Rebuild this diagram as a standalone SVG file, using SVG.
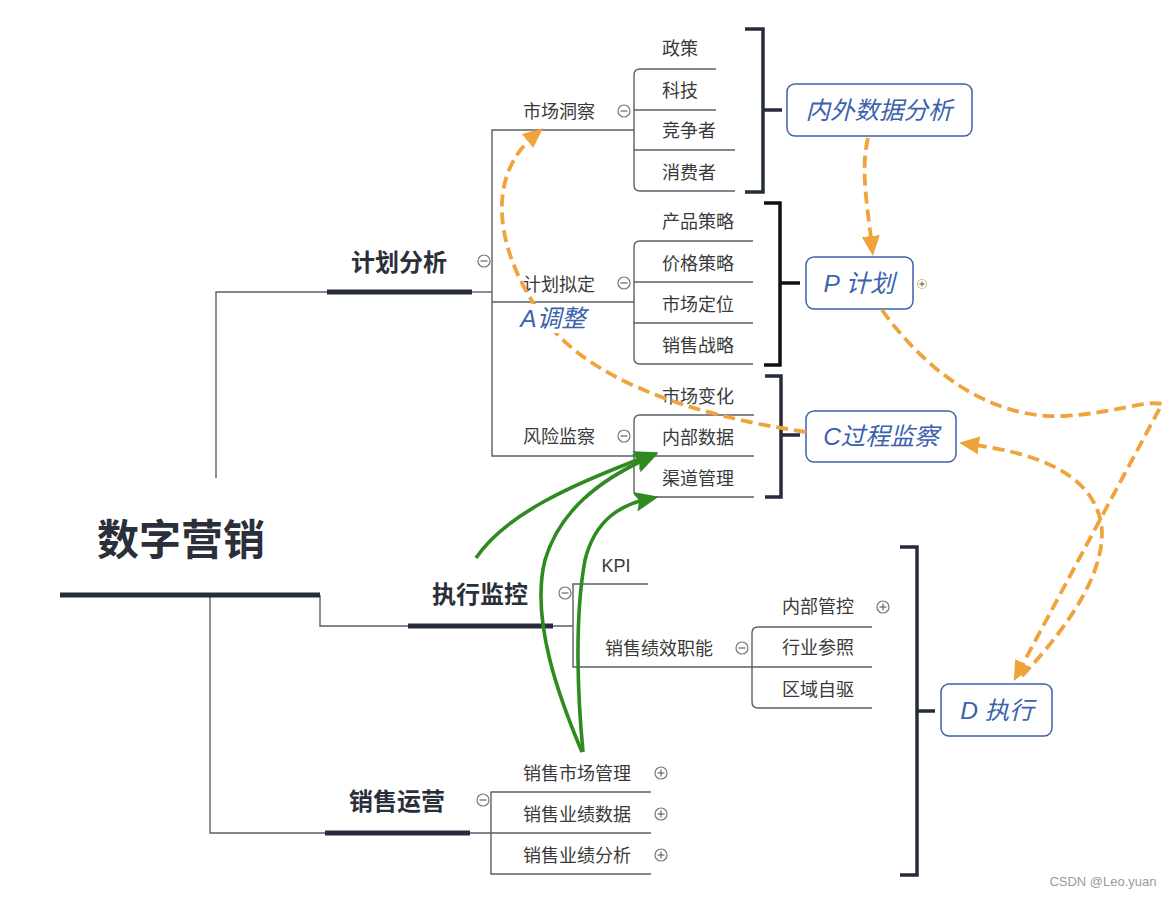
<svg xmlns="http://www.w3.org/2000/svg" width="1172" height="898" viewBox="0 0 1172 898">
<style>
.ln{fill:none;stroke:#5b5f69;stroke-width:1.4}
.bar{fill:none;stroke:#262c3e;stroke-width:5}
.br{fill:none;stroke:#262c3e;stroke-width:3.5}
.t{font-family:"Liberation Sans","Noto Sans CJK SC",sans-serif;font-size:18px;fill:#3a3a3a;text-anchor:middle;dominant-baseline:central}
.tb{font-family:"Liberation Sans","Noto Sans CJK SC",sans-serif;font-weight:bold;font-size:24px;fill:#2b2f3a;text-anchor:middle;dominant-baseline:central}
.root{font-size:42px}
.box{fill:#fff;stroke:#3c62aa;stroke-width:1.5}
.bt{font-family:"Liberation Sans","Noto Sans CJK SC",sans-serif;font-style:italic;font-size:24.5px;fill:#3a62ad;text-anchor:middle;dominant-baseline:central}
.tog{fill:#fff;stroke:#777;stroke-width:1.2}
.tgl{stroke:#666;stroke-width:1.2}
.or{fill:none;stroke:#f0a23b;stroke-width:3.8;stroke-dasharray:12 6}
.gr{fill:none;stroke:#2f8a1f;stroke-width:3.6}
.wm{font-family:"Liberation Sans",sans-serif;font-size:13px;fill:#9a9a9a;text-anchor:middle;dominant-baseline:central}
</style>
<defs>
<marker id="ao" markerUnits="userSpaceOnUse" markerWidth="20" markerHeight="18" refX="11" refY="9" orient="auto" viewBox="0 0 20 18"><path d="M0,0 L20,9 L0,18 z" fill="#f0a23b"/></marker>
<marker id="ag" markerUnits="userSpaceOnUse" markerWidth="24" markerHeight="20" refX="13" refY="10" orient="auto" viewBox="0 0 24 20"><path d="M0,0 L24,10 L0,20 L4,10 z" fill="#2f8a1f"/></marker>
<g id="tog"><circle r="6" class="tog"/><line x1="-3.5" y1="0" x2="3.5" y2="0" class="tgl"/></g>
<g id="plus"><circle r="6" class="tog"/><line x1="-3.5" y1="0" x2="3.5" y2="0" class="tgl"/><line x1="0" y1="-3.5" x2="0" y2="3.5" class="tgl"/></g>
</defs>
<rect width="1172" height="898" fill="#fff"/>

<g id="tree-lines">
<path class="ln" d="M216 478 L216 292 L327 292"/>
<path class="ln" d="M472 292 L492 292"/>
<path class="ln" d="M634 130 L492 130 L492 456 L634 456 M492 302 L634 302"/>
<path class="ln" d="M716 69 L640 69 Q634 69 634 75 L634 185 Q634 191 640 191 L735 191 M634 110 L716 110 M634 150 L735 150"/>
<path class="ln" d="M753 241 L640 241 Q634 241 634 247 L634 358 Q634 364 640 364 L753 364 M634 282 L753 282 M634 323 L753 323"/>
<path class="ln" d="M754 415 L640 415 Q634 415 634 421 L634 491 Q634 497 640 497 L754 497 M634 456 L754 456"/>
<path class="ln" d="M320 595 L320 626 L408 626 M553 626 L573 626"/>
<path class="ln" d="M648 584 L573 584 L573 667 L752 667"/>
<path class="ln" d="M872 627 L758 627 Q752 627 752 633 L752 702 Q752 708 758 708 L872 708 M752 667 L872 667"/>
<path class="ln" d="M210 595 L210 833 L325 833 M470 833 L491 833"/>
<path class="ln" d="M651 792 L491 792 L491 874 L651 874 M491 833 L651 833"/>
<path class="bar" d="M60 595 L320 595"/>
<path class="bar" d="M327 292 L472 292"/>
<path class="bar" d="M408 626 L553 626"/>
<path class="bar" d="M325 833 L470 833"/>
</g>

<g id="brackets">
<path class="br" d="M745 29 L763 29 L763 192 L745 192 M763 110 L782 110"/>
<path class="br" style="stroke:#111" d="M764 203 L780 203 L780 365 L764 365 M780 283 L800 283"/>
<path class="br" d="M765 376 L781 376 L781 497 L765 497 M781 435 L800 435"/>
<path class="br" d="M900 547 L917 547 L917 875 L900 875 M917 711 L935 711"/>
</g>

<g id="n-root"><text class="tb root" x="181" y="540">数字营销</text></g>

<g id="n-jhfx"><text class="tb" x="399" y="262">计划分析</text><use href="#tog" x="484" y="261"/></g>
<g id="n-zxjk"><text class="tb" x="480" y="594">执行监控</text><use href="#tog" x="565" y="593"/></g>
<g id="n-xsyy"><text class="tb" x="397" y="801">销售运营</text><use href="#tog" x="483" y="800"/></g>

<g id="n-scdc"><text class="t" x="559" y="112">市场洞察</text><use href="#tog" x="624" y="111"/></g>
<g id="n-jhnd"><text class="t" x="559" y="285">计划拟定</text><use href="#tog" x="624" y="283"/></g>
<g id="n-fxjc"><text class="t" x="559" y="437">风险监察</text><use href="#tog" x="624" y="436"/></g>

<g id="n-zc"><text class="t" x="680" y="49">政策</text></g>
<g id="n-kj"><text class="t" x="680" y="91">科技</text></g>
<g id="n-jzz"><text class="t" x="689" y="131">竞争者</text></g>
<g id="n-xfz"><text class="t" x="689" y="173">消费者</text></g>

<g id="n-cpcl"><text class="t" x="698" y="222">产品策略</text></g>
<g id="n-jgcl"><text class="t" x="698" y="264">价格策略</text></g>
<g id="n-scdw"><text class="t" x="698" y="305">市场定位</text></g>
<g id="n-xszl"><text class="t" x="698" y="346">销售战略</text></g>

<g id="n-scbh"><text class="t" x="698" y="397">市场变化</text></g>
<g id="n-nbsj"><text class="t" x="698" y="438">内部数据</text></g>
<g id="n-qdgl"><text class="t" x="698" y="479">渠道管理</text></g>

<g id="n-kpi"><text class="t" x="616" y="566">KPI</text></g>
<g id="n-xsjx"><text class="t" x="659" y="649">销售绩效职能</text><use href="#tog" x="742" y="648"/></g>
<g id="n-nbgk"><text class="t" x="818" y="607">内部管控</text><use href="#plus" x="883" y="607"/></g>
<g id="n-hycz"><text class="t" x="818" y="648">行业参照</text></g>
<g id="n-qyzq"><text class="t" x="818" y="690">区域自驱</text></g>

<g id="n-xsscgl"><text class="t" x="577" y="774">销售市场管理</text><use href="#plus" x="661" y="773"/></g>
<g id="n-xsyjsj"><text class="t" x="577" y="815">销售业绩数据</text><use href="#plus" x="661" y="814"/></g>
<g id="n-xsyjfx"><text class="t" x="577" y="856">销售业绩分析</text><use href="#plus" x="661" y="855"/></g>

<g id="n-nwsj"><rect class="box" x="787" y="84" width="185" height="52" rx="8"/><text class="bt" x="879" y="110">内外数据分析</text></g>
<g id="n-p"><rect class="box" x="806" y="257" width="107" height="52" rx="8"/><text class="bt" x="859" y="283">P 计划</text>
<circle cx="922" cy="284" r="4.5" fill="#fff" stroke="#d6c66a" stroke-width="1.2"/><path d="M919.5 284 H924.5 M922 281.5 V286.5" stroke="#555" stroke-width="1"/></g>
<g id="n-c"><rect class="box" x="806" y="411" width="150" height="51" rx="8"/><text class="bt" x="881" y="436">C过程监察</text></g>
<g id="n-d"><rect class="box" x="941" y="684" width="111" height="52" rx="8"/><text class="bt" x="997" y="710">D 执行</text></g>

<g id="connectors">
<path class="or" marker-end="url(#ao)" d="M868 138 C860 170 868 210 872 247"/>
<path class="or" marker-end="url(#ao)" d="M882 310 C925 370 990 420 1065 416 C1115 413 1145 400 1162 404 L1018 673"/>
<path class="or" marker-end="url(#ao)" d="M1022 676 C1075 620 1108 565 1101 522 C1090 470 1030 452 968 444"/>
<path class="or" marker-end="url(#ao)" d="M806 432 C690 415 590 380 545 320 C500 260 480 180 536 134"/>
<path class="gr" marker-end="url(#ag)" d="M476 558 C505 515 570 485 648 456"/>
<path class="gr" marker-end="url(#ag)" d="M582 752 C560 700 530 620 545 560 C560 510 600 480 648 458"/>
<path class="gr" marker-end="url(#ag)" d="M583 752 C578 700 574 620 585 560 C595 520 620 505 648 499"/>
</g>

<g id="label-a"><rect x="512" y="304" width="84" height="29" fill="#fff"/><text class="bt" x="553" y="318">A调整</text></g>

<text class="wm" x="1103" y="881">CSDN @Leo.yuan</text>
</svg>
